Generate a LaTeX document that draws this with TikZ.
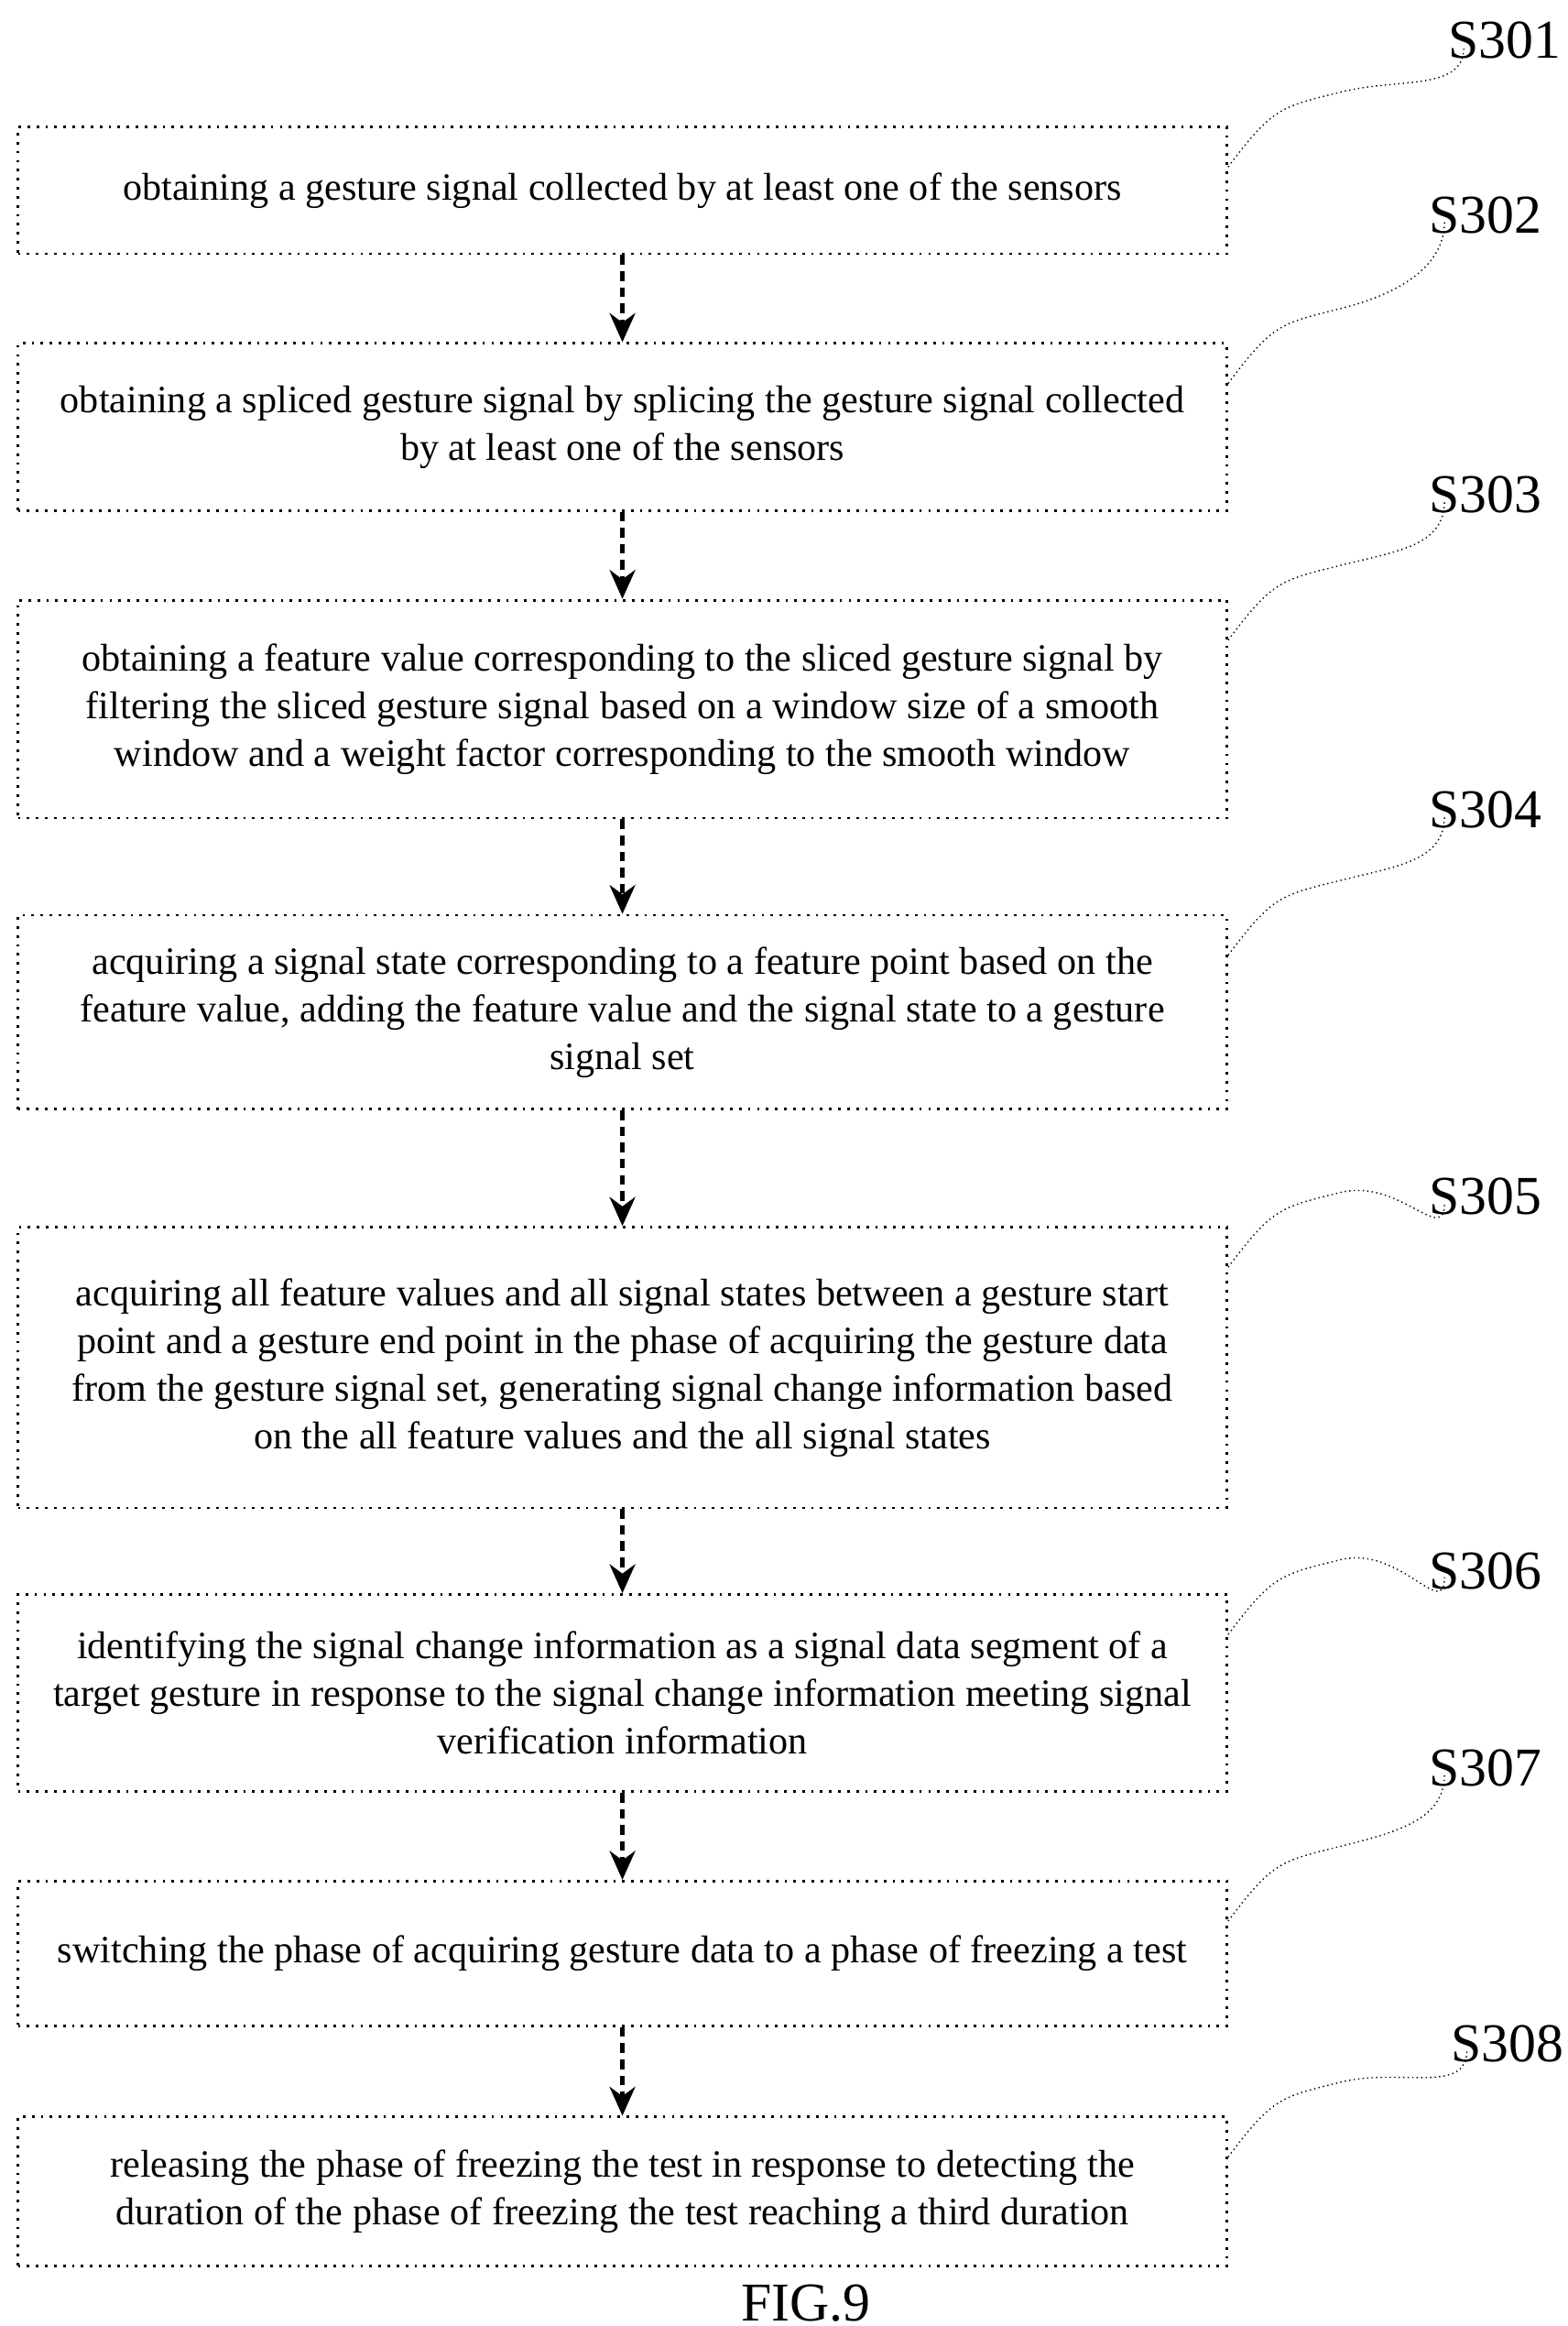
\documentclass[tikz,border=0pt]{standalone}
\usepackage{fontspec}
\setmainfont{Liberation Serif}
\usetikzlibrary{positioning,arrows.meta}

\tikzset{
  stepbox/.style={draw, dotted, thick, minimum width=13.2cm, align=center,
    font=\fontsize{12}{14.8}\selectfont, inner sep=2pt},
  flow/.style={draw, densely dashed, very thick, -{Stealth[length=9pt,width=8pt]}},
  lead/.style={draw, densely dotted, thin},
  steplabel/.style={font=\fontsize{17}{20}\selectfont, anchor=south west, inner sep=0pt}
}

\begin{document}
\begin{tikzpicture}[x=0.016295cm, y=-0.016295cm]
    \useasboundingbox (0,0) rectangle (1050,1558);
    % Steps
    \node[stepbox, minimum height=1.385cm] (s1) at (417,127.5) {obtaining a gesture signal collected by at least one of the sensors};
    \node[stepbox, minimum height=1.825cm] (s2) at (417,286) {obtaining a spliced gesture signal by splicing the gesture signal collected\\by at least one of the sensors};
    \node[stepbox, minimum height=2.379cm] (s3) at (417,475) {obtaining a feature value corresponding to the sliced gesture signal by\\filtering the sliced gesture signal based on a window size of a smooth\\window and a weight factor corresponding to the smooth window};
    \node[stepbox, minimum height=2.118cm] (s4) at (417,678) {acquiring a signal state corresponding to a feature point based on the\\feature value, adding the feature value and the signal state to a gesture\\signal set};
    \node[stepbox, minimum height=3.063cm] (s5) at (417,916) {acquiring all feature values and all signal states between a gesture start\\point and a gesture end point in the phase of acquiring the gesture data\\from the gesture signal set, generating signal change information based\\on the all feature values and the all signal states};
    \node[stepbox, minimum height=2.151cm] (s6) at (417,1134) {identifying the signal change information as a signal data segment of a\\target gesture in response to the signal change information meeting signal\\verification information};
    \node[stepbox, minimum height=1.581cm] (s7) at (417,1308.5) {switching the phase of acquiring gesture data to a phase of freezing a test};
    \node[stepbox, minimum height=1.630cm] (s8) at (417,1468) {releasing the phase of freezing the test in response to detecting the\\duration of the phase of freezing the test reaching a third duration};
    % Step labels
    \node[steplabel] (l1) at (970,40) {S301};
    \node[steplabel] (l2) at (957,157) {S302};
    \node[steplabel] (l3) at (957,344) {S303};
    \node[steplabel] (l4) at (957,555) {S304};
    \node[steplabel] (l5) at (957,814) {S305};
    \node[steplabel] (l6) at (957,1065) {S306};
    \node[steplabel] (l7) at (957,1197) {S307};
    \node[steplabel] (l8) at (972,1382) {S308};
    \node[font=\fontsize{17}{20}\selectfont] (fig) at (540,1543) {FIG.9};
    % Arrows
    \foreach \a/\b in {s1/s2, s2/s3, s3/s4, s4/s5, s5/s6, s6/s7, s7/s8}
        \draw[flow] (\a.south) -- (\b.north);
    % Leaders
    \foreach \i in {1,...,8}
        \draw[lead] ([yshift=-0.45cm]s\i.north east) .. controls +(30,-40) and +(-40,10) .. +(75,-50)
            .. controls +(40,-10) and +(0,30) .. ([xshift=5pt,yshift=4pt]l\i.south west);
\end{tikzpicture}
\end{document}
